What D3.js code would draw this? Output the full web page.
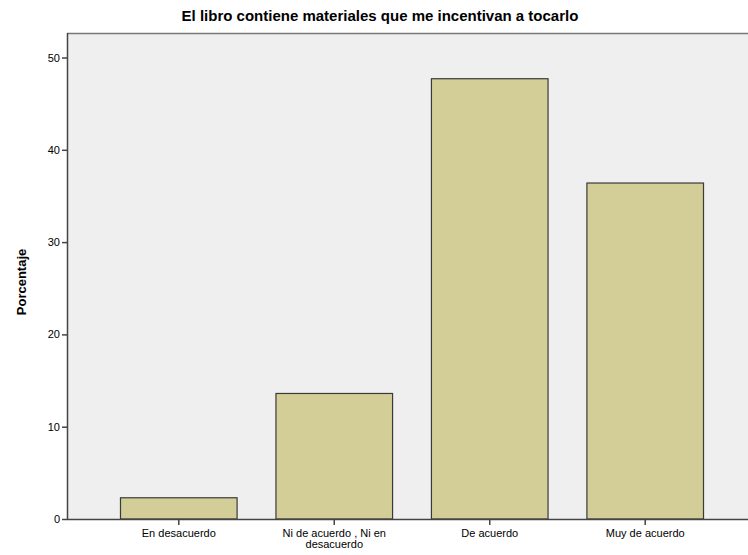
<!DOCTYPE html>
<head>
  <meta charset="utf-8">
  <script src="https://cdn.jsdelivr.net/npm/d3@7"></script>
  <style>
    body { margin: 0; background: #fff; }
    text { font-family: "Liberation Sans", Arial, sans-serif; fill: #000; }
  </style>
</head>
<body>
  <svg width="748" height="555"></svg>
  <script>

  var categories = ["En desacuerdo", "Ni de acuerdo , Ni en|desacuerdo", "De acuerdo", "Muy de acuerdo"];
  var porcentaje = [2.3, 13.6, 47.7, 36.4];
  var yTicks = [0, 10, 20, 30, 40, 50];

  var svg = d3.select("svg");

  var plotLeft = 67, plotTop = 33, plotRight = 757, plotBottom = 519;

  var x = d3.scaleBand()
      .domain(categories)
      .range([plotLeft, plotRight])
      .paddingInner(0.25)
      .paddingOuter(0.344);

  var y = d3.scaleLinear()
      .domain([0, 50])
      .range([plotBottom, 57.5]);

  // plot background
  svg.append("rect")
      .attr("x", plotLeft)
      .attr("y", plotTop)
      .attr("width", 748 - plotLeft)
      .attr("height", plotBottom - plotTop)
      .attr("fill", "#efefef");

  svg.append("line")
      .attr("x1", plotLeft).attr("x2", 748)
      .attr("y1", plotTop + 0.5).attr("y2", plotTop + 0.5)
      .attr("stroke", "#777")
      .attr("stroke-width", 1.5);

  svg.selectAll(".bar")
    .data(porcentaje)
    .enter().append("rect")
      .attr("class", "bar")
      .attr("x", function(d, i) { return x(categories[i]); })
      .attr("y", function(d) { return y(d); })
      .attr("width", x.bandwidth())
      .attr("height", function(d) { return y(0) - y(d); })
      .attr("fill", "#d3ce97")
      .attr("stroke", "#3a3a3a")
      .attr("stroke-width", 1.2);

  // y axis
  var yAxis = svg.append("g")
      .attr("transform", "translate(" + plotLeft + ",0)")
      .call(d3.axisLeft(y).tickValues(yTicks).tickSize(5).tickPadding(2));
  yAxis.select(".domain").attr("d", "M0.5," + plotTop + "V" + (plotBottom + 0.5)).attr("stroke", "#444").attr("stroke-width", 1.5);
  yAxis.selectAll(".tick line").attr("stroke", "#444").attr("stroke-width", 1.5);
  yAxis.selectAll("text").style("font-size", "11px").attr("fill", "#000");

  // x axis
  var xAxis = svg.append("g")
      .attr("transform", "translate(0," + plotBottom + ")")
      .call(d3.axisBottom(x).tickSize(6).tickFormat(""));
  xAxis.select(".domain").attr("d", "M" + plotLeft + ",0.5H748").attr("stroke", "#444").attr("stroke-width", 1.5);
  xAxis.selectAll(".tick line").attr("stroke", "#444").attr("stroke-width", 1.5);

  xAxis.selectAll(".tick").each(function(d) {
    var g = d3.select(this);
    d.split("|").forEach(function(s, k) {
      g.append("text")
          .attr("text-anchor", "middle")
          .style("font-size", "11px")
          .attr("fill", "#000")
          .attr("y", 18 + k * 11)
          .text(s);
    });
  });

  svg.append("text")
      .attr("x", 380)
      .attr("y", 21)
      .attr("text-anchor", "middle")
      .attr("font-weight", "bold")
      .style("font-size", "15px")
      .text("El libro contiene materiales que me incentivan a tocarlo");

  svg.append("text")
      .attr("transform", "translate(26,282) rotate(-90)")
      .attr("text-anchor", "middle")
      .attr("font-weight", "bold")
      .style("font-size", "13px")
      .text("Porcentaje");

  </script>
</body>
